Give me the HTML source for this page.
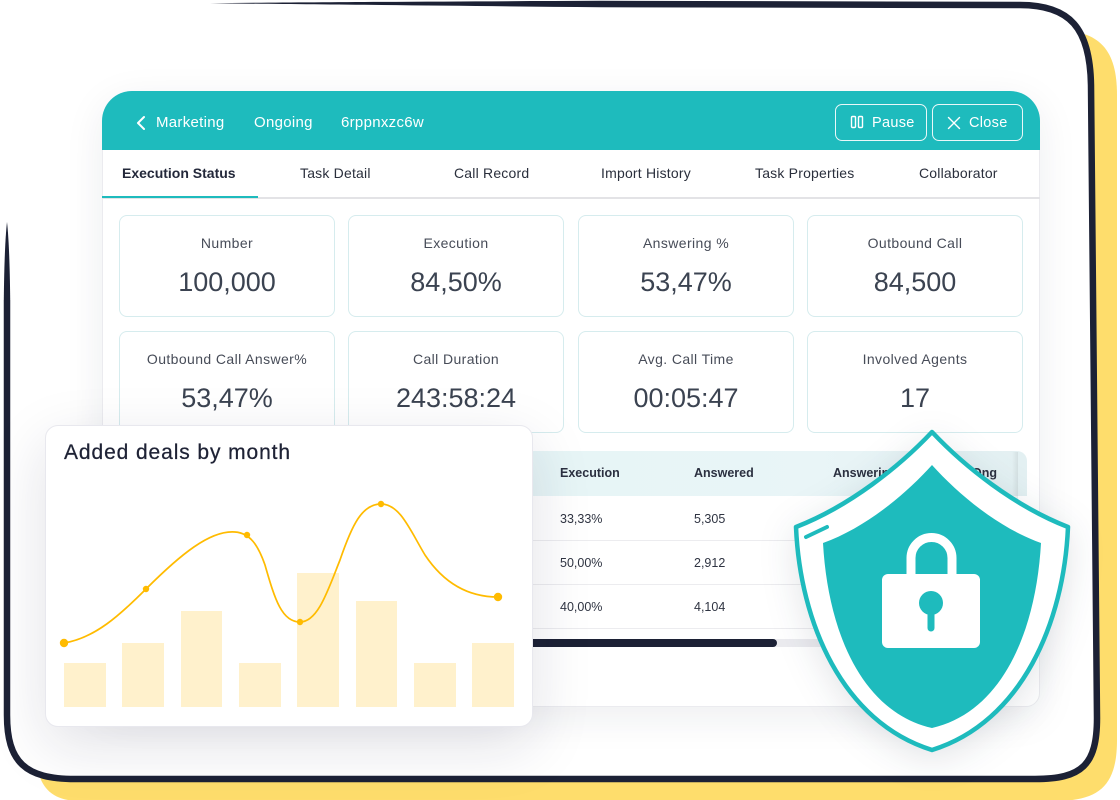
<!DOCTYPE html>
<html><head><meta charset="utf-8">
<style>
*{margin:0;padding:0;box-sizing:border-box}
html,body{width:1120px;height:800px;overflow:hidden;background:#fff;font-family:"Liberation Sans",sans-serif}
.abs{position:absolute}
.panel{position:absolute;left:102px;top:91px;width:938px;height:616px;background:#fff;border:1px solid #ebebef;border-radius:30px 30px 14px 14px;box-shadow:0 10px 40px rgba(30,34,60,.08);z-index:1}
.hdr{position:absolute;left:102px;top:91px;width:938px;height:59px;background:#1ebbbd;border-radius:30px 30px 0 0;z-index:2}
.ht{position:absolute;top:113px;line-height:20px;font-size:15px;color:#fff;letter-spacing:.3px;z-index:3;white-space:nowrap}
.btn{position:absolute;top:104px;height:37px;border:1.5px solid rgba(255,255,255,.9);border-radius:7px;z-index:3}
.tab{position:absolute;top:164px;line-height:18px;font-size:14px;color:#2a2f3c;letter-spacing:.2px;z-index:3;white-space:nowrap}
.card{position:absolute;width:216px;height:102px;border:1px solid #d6ecee;border-radius:8px;background:#fff;z-index:3}
.card .l{position:absolute;left:0;right:0;top:18px;text-align:center;font-size:14px;line-height:18px;color:#474c58;letter-spacing:.4px;white-space:nowrap}
.card .v{position:absolute;left:0;right:0;top:50px;text-align:center;font-size:27px;line-height:32px;color:#3b4351;white-space:nowrap}
.th{position:absolute;top:464px;line-height:18px;font-size:12.5px;font-weight:bold;color:#2b3040;z-index:4;white-space:nowrap}
.td{position:absolute;line-height:18px;font-size:12.5px;color:#2f3442;z-index:4;white-space:nowrap}
.chart{position:absolute;left:45px;top:425px;width:488px;height:302px;background:#fff;border:1px solid #e8e8ee;border-radius:13px;box-shadow:0 18px 60px rgba(20,24,60,.13);z-index:6}
.ctitle{position:absolute;left:64px;top:441px;font-size:21px;line-height:24px;letter-spacing:.9px;color:#1e2235;z-index:7;white-space:nowrap;-webkit-text-stroke:.25px #1e2235}
</style></head><body>

<!-- Frame -->
<svg class="abs" style="left:0;top:0;z-index:0" width="1120" height="800" viewBox="0 0 1120 800">
  <path d="M30,60 Q30,30 60,30 L1055,30 C1100,30 1117,50 1117,95 L1117,740 C1117,785 1100,801 1055,801 L80,801 C55,801 42,790 38,770 Z" fill="#fedd6c"/>
  <path d="M5,60 L5,715 C5,762 25,779 75,779 L1035,779 C1082,779 1097,765 1097,718 L1091,85 C1090,28 1070,4 1020,4 L60,3 Z" fill="#fff"/>
  <path d="M7,300 L7,715 C7,762 25,779 75,779 L1035,779 C1082,779 1097,765 1097,718 L1091,85 C1090,28 1070,5 1020,5 L600,4" fill="none" stroke="#1c2135" stroke-width="6.5"/>
  <path d="M3.8,300 C4.2,262 5.4,236 7,222 C8.6,236 9.8,262 10.2,300 Z" fill="#1c2135"/>
  <path d="M600,0.8 C450,1.4 300,2.2 210,3.2 C300,4.2 450,5.8 600,7.2 Z" fill="#1c2135"/>
</svg>

<!-- Main panel -->
<div class="panel"></div>
<div class="hdr"></div>
<svg class="abs" style="left:134px;top:114px;z-index:3" width="14" height="18" viewBox="0 0 14 18"><polyline points="10,3 4,9 10,15" fill="none" stroke="#fff" stroke-width="2" stroke-linecap="round" stroke-linejoin="round"/></svg>
<div class="ht" style="left:156px">Marketing</div>
<div class="ht" style="left:254px">Ongoing</div>
<div class="ht" style="left:341px">6rppnxzc6w</div>
<div class="btn" style="left:835px;width:92px"></div>
<div class="btn" style="left:932px;width:91px"></div>
<svg class="abs" style="left:849px;top:114px;z-index:3" width="16" height="16" viewBox="0 0 16 16"><rect x="2.5" y="2.5" width="4" height="11" rx="1" fill="none" stroke="#fff" stroke-width="1.4"/><rect x="9.5" y="2.5" width="4" height="11" rx="1" fill="none" stroke="#fff" stroke-width="1.4"/></svg>
<div class="ht" style="left:872px;font-size:14.5px">Pause</div>
<svg class="abs" style="left:946px;top:115px;z-index:3" width="16" height="16" viewBox="0 0 16 16"><path d="M2.5,2.5 L13.5,13.5 M13.5,2.5 L2.5,13.5" stroke="#fff" stroke-width="1.4" stroke-linecap="round"/></svg>
<div class="ht" style="left:969px;font-size:14.5px">Close</div>

<div class="tab" style="left:122px;font-weight:bold;color:#23283a;letter-spacing:0">Execution Status</div>
<div class="tab" style="left:300px">Task Detail</div>
<div class="tab" style="left:454px">Call Record</div>
<div class="tab" style="left:601px">Import History</div>
<div class="tab" style="left:755px">Task Properties</div>
<div class="tab" style="left:919px">Collaborator</div>
<div class="abs" style="left:102px;top:197px;width:938px;height:1.5px;background:#e3e3e6;z-index:3"></div>
<div class="abs" style="left:102px;top:195.5px;width:156px;height:2.5px;background:#1ebbbd;z-index:3"></div>

<div class="card" style="left:119px;top:215px"><div class="l">Number</div><div class="v">100,000</div></div>
<div class="card" style="left:348px;top:215px"><div class="l">Execution</div><div class="v">84,50%</div></div>
<div class="card" style="left:578px;top:215px"><div class="l">Answering %</div><div class="v">53,47%</div></div>
<div class="card" style="left:807px;top:215px"><div class="l">Outbound Call</div><div class="v">84,500</div></div>
<div class="card" style="left:119px;top:331px"><div class="l">Outbound Call Answer%</div><div class="v">53,47%</div></div>
<div class="card" style="left:348px;top:331px"><div class="l">Call Duration</div><div class="v">243:58:24</div></div>
<div class="card" style="left:578px;top:331px"><div class="l">Avg. Call Time</div><div class="v">00:05:47</div></div>
<div class="card" style="left:807px;top:331px"><div class="l">Involved Agents</div><div class="v">17</div></div>

<!-- Table -->
<div class="abs" style="left:500px;top:451px;width:527px;height:45px;background:linear-gradient(90deg,#e6f5f6,#e9f5f7 60%,#e3f0f2);border-radius:0 10px 0 0;z-index:3"></div>
<div class="abs" style="left:1012px;top:452px;width:6px;height:60px;background:linear-gradient(90deg,rgba(0,0,0,0),rgba(0,0,0,.07));z-index:3"></div>
<div class="abs" style="left:500px;top:540px;width:515px;height:1px;background:#ececef;z-index:3"></div>
<div class="abs" style="left:500px;top:584px;width:515px;height:1px;background:#ececef;z-index:3"></div>
<div class="abs" style="left:500px;top:628px;width:515px;height:1px;background:#ececef;z-index:3"></div>
<div class="abs" style="left:500px;top:639px;width:340px;height:8px;background:#ebebef;border-radius:4px;z-index:3"></div>
<div class="abs" style="left:500px;top:639px;width:277px;height:8px;background:#1c2135;border-radius:4px;z-index:3"></div>
<div class="th" style="left:560px">Execution</div>
<div class="th" style="left:694px">Answered</div>
<div class="th" style="left:833px">Answering %</div>
<div class="th" style="left:972px">Ong</div>
<div class="td" style="left:560px;top:510px">33,33%</div>
<div class="td" style="left:694px;top:510px">5,305</div>
<div class="td" style="left:560px;top:554px">50,00%</div>
<div class="td" style="left:694px;top:554px">2,912</div>
<div class="td" style="left:560px;top:598px">40,00%</div>
<div class="td" style="left:694px;top:598px">4,104</div>

<!-- Chart panel -->
<div class="chart"></div>
<div class="ctitle">Added deals by month</div>
<svg class="abs" style="left:0;top:0;z-index:8" width="1120" height="800" viewBox="0 0 1120 800">
  <g fill="#fff1cc">
    <rect x="64" y="663" width="42" height="44"/>
    <rect x="122" y="643" width="42" height="64"/>
    <rect x="181" y="611" width="41" height="96"/>
    <rect x="239" y="663" width="42" height="44"/>
    <rect x="297" y="573" width="42" height="134"/>
    <rect x="356" y="601" width="41" height="106"/>
    <rect x="414" y="663" width="42" height="44"/>
    <rect x="472" y="643" width="42" height="64"/>
  </g>
  <path d="M64,643 C95,638 120,615 146,589 C180,555 210,530 235,532 C250,533 258,545 265,565 C275,600 282,622 300,622 C318,622 328,590 340,560 C352,525 362,504 381,504 C400,504 410,530 425,555 C445,585 470,597 498,597" fill="none" stroke="#ffbb00" stroke-width="1.7"/>
  <g fill="#ffbb00">
    <circle cx="64" cy="643" r="4.2"/>
    <circle cx="146" cy="589" r="3.2"/>
    <circle cx="247" cy="535" r="3.2"/>
    <circle cx="300" cy="622" r="3.2"/>
    <circle cx="381" cy="504" r="3.2"/>
    <circle cx="498" cy="597" r="4.2"/>
  </g>
</svg>

<!-- Shield -->
<svg class="abs" style="left:0;top:0;z-index:9;filter:drop-shadow(0 8px 18px rgba(20,30,60,.12))" width="1120" height="800" viewBox="0 0 1120 800">
  <path d="M932,432 C900,466 850,506 796,527 C800,622 842,722 932,750 C1022,722 1064,622 1068,527 C1014,506 964,466 932,432 Z" fill="#fff" stroke="#1ebbbd" stroke-width="4.5" stroke-linejoin="round"/>
  <path d="M932,465 C905,495 865,528 823,543 C828,632 862,712 932,728 C1002,712 1036,632 1041,543 C999,528 959,495 932,465 Z" fill="#1ebbbd"/>
  <path d="M806,537 L827,527" stroke="#1ebbbd" stroke-width="4" stroke-linecap="round"/>
  <path d="M911,575 L911,558 A20.5,20.5 0 0 1 952,558 L952,575" fill="none" stroke="#fff" stroke-width="9"/>
  <rect x="882" y="574" width="98" height="74" rx="6" fill="#fff"/>
  <circle cx="931" cy="603" r="12" fill="#1ebbbd"/>
  <path d="M931,605 L931,628" stroke="#1ebbbd" stroke-width="7" stroke-linecap="round"/>
</svg>

</body></html>
